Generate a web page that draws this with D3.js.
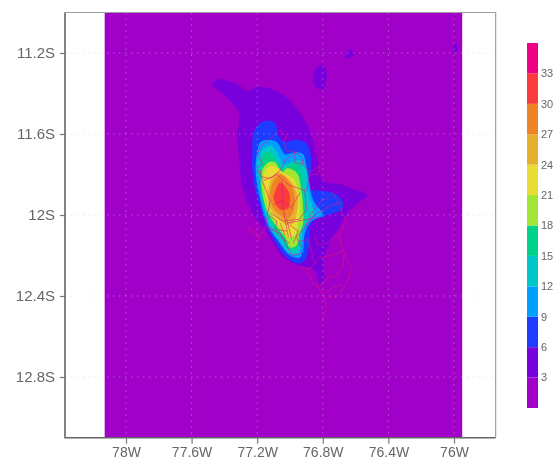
<!DOCTYPE html>
<html>
<head>
<meta charset="utf-8">
<script src="https://cdn.jsdelivr.net/npm/d3@7"></script>
<style>
html, body { margin: 0; background: #fff; overflow: hidden; }
svg { display: block; filter: blur(0.45px); }
text { font-family: "Liberation Sans", Arial, sans-serif; fill: #666; }
</style>
</head>
<body>
<div id="chart"></div>
<script>
// tick values, degrees west / degrees south
const lonTicks = [78, 77.6, 77.2, 76.8, 76.4, 76]
const latTicks = [11.2, 11.6, 12, 12.4, 12.8]

// colour bar
const barLevels = [3, 6, 9, 12, 15, 18, 21, 24, 27, 30, 33]
const barColors = ['#a000c8', '#7800dc', '#1e3cff', '#00a0ff', '#00c8c8', '#00d28c',
    '#a0e632', '#e6dc32', '#e6af2d', '#f08228', '#fa3c3c', '#f00082']

// data window of the map and of the frame
const mapLon = [78.13, 75.95]
const frameLon = [78.372, 75.746]
const frameLat = [11.0, 13.1]

// contours as [lon W, lat S], one list per level
const level3 = [[77.47,11.36],[77.44,11.33],[77.37,11.34],[77.29,11.37],[77.26,11.39],[77.21,11.37],[77.14,11.37],[77.04,11.41],[76.96,11.47],[76.88,11.58],[76.85,11.66],[76.83,11.73],[76.80,11.83],[76.68,11.85],[76.62,11.87],[76.53,11.90],[76.60,11.95],[76.65,11.99],[76.70,12.06],[76.76,12.14],[76.80,12.24],[76.79,12.32],[76.82,12.34],[76.85,12.27],[76.94,12.25],[77.04,12.21],[77.14,12.09],[77.23,11.99],[77.29,11.86],[77.31,11.73],[77.32,11.60],[77.31,11.50],[77.35,11.45],[77.41,11.40]]
const blob1 = [[76.85,11.29],[76.82,11.26],[76.78,11.28],[76.78,11.34],[76.80,11.38],[76.84,11.37],[76.86,11.33]]
const blob2 = [[76.63,11.18],[76.61,11.21],[76.66,11.23],[76.65,11.20]]
const blob3 = [[75.99,11.15],[75.98,11.19],[76.01,11.19]]
const level6 = [[77.10,11.54],[77.17,11.54],[77.22,11.59],[77.23,11.69],[77.23,11.78],[77.21,11.88],[77.15,12.04],[77.10,12.12],[77.02,12.21],[76.94,12.24],[76.90,12.21],[76.88,12.12],[76.87,12.04],[76.77,12.00],[76.68,11.97],[76.68,11.93],[76.74,11.89],[76.82,11.88],[76.88,11.87],[76.87,11.75],[76.88,11.68],[76.91,11.64],[76.97,11.63],[77.03,11.64],[77.07,11.61],[77.08,11.57]]
const level9 = [[77.13,11.63],[77.18,11.64],[77.20,11.69],[77.21,11.78],[77.18,11.93],[77.13,12.06],[77.08,12.12],[77.00,12.20],[76.94,12.21],[76.92,12.17],[76.91,12.09],[76.87,12.03],[76.80,12.00],[76.85,11.94],[76.87,11.90],[76.88,11.85],[76.90,11.76],[76.92,11.70],[76.96,11.69],[77.03,11.70],[77.05,11.68],[77.08,11.64]]
const level12 = [[77.14,11.66],[77.18,11.69],[77.20,11.76],[77.18,11.85],[77.17,11.93],[77.12,12.06],[77.07,12.12],[77.00,12.19],[76.95,12.19],[76.93,12.14],[76.92,12.08],[76.88,12.02],[76.85,11.99],[76.87,11.95],[76.89,11.88],[76.91,11.75],[76.96,11.73],[77.04,11.75],[77.08,11.69],[77.11,11.66]]
const level15 = [[77.15,11.69],[77.17,11.73],[77.18,11.79],[77.18,11.88],[77.15,11.97],[77.10,12.06],[77.05,12.11],[77.00,12.17],[76.96,12.17],[76.94,12.10],[76.91,12.03],[76.91,11.96],[76.92,11.89],[76.93,11.78],[76.97,11.74],[77.00,11.75],[77.05,11.77],[77.09,11.72],[77.12,11.69]]
const level18 = [[77.13,11.74],[77.17,11.78],[77.17,11.88],[77.14,11.98],[77.08,12.06],[77.03,12.11],[77.00,12.16],[76.96,12.15],[76.94,12.09],[76.92,12.04],[76.92,11.96],[76.93,11.88],[76.96,11.79],[77.02,11.77],[77.05,11.79],[77.09,11.74]]
const level21 = [[77.09,11.76],[77.13,11.76],[77.16,11.80],[77.15,11.90],[77.12,11.98],[77.07,12.05],[77.01,12.11],[76.97,12.10],[76.95,12.04],[76.94,11.96],[76.95,11.88],[76.98,11.82],[77.04,11.79]]
const level24 = [[77.07,11.79],[77.11,11.82],[77.135,11.89],[77.125,11.96],[77.07,12.02],[77.02,12.05],[76.98,12.04],[76.955,11.97],[76.955,11.90],[77.00,11.83]]
const level27 = [[77.06,11.80],[77.105,11.84],[77.12,11.90],[77.105,11.96],[77.06,12.00],[77.02,12.02],[76.985,11.99],[76.97,11.93],[76.98,11.875],[77.02,11.82]]
const level30 = [[77.06,11.84],[77.09,11.885],[77.10,11.915],[77.08,11.955],[77.05,11.975],[77.01,11.965],[77.00,11.915],[77.015,11.875]]

const contourLayers = [
    { points: level3, color: barColors[1] },
    { points: blob1, color: barColors[1] },
    { points: blob2, color: barColors[1] },
    { points: blob3, color: barColors[1] },
    { points: level6, color: barColors[2] },
    { points: level9, color: barColors[3] },
    { points: level12, color: barColors[4] },
    { points: level15, color: barColors[5] },
    { points: level18, color: barColors[6] },
    { points: level21, color: barColors[7] },
    { points: level24, color: barColors[8] },
    { points: level27, color: barColors[9] },
    { points: level30, color: barColors[10] }
]

// district borders, also [lon W, lat S]
const borders = [
    [[76.94,12.25],[76.91,12.28],[76.88,12.30],[76.86,12.34],[76.83,12.35],[76.81,12.38],[76.79,12.40],[76.78,12.44],[76.78,12.47],[76.80,12.51],[76.79,12.53]],
    [[76.77,12.40],[76.73,12.41],[76.69,12.385],[76.66,12.34],[76.64,12.31],[76.62,12.26],[76.65,12.23],[76.67,12.18],[76.69,12.14],[76.70,12.10],[76.66,12.03],[76.68,11.99],[76.70,11.95],[76.74,11.89],[76.78,11.92],[76.81,11.93],[76.85,11.97],[76.88,12.01],[76.91,12.06]],
    [[76.82,12.35],[76.77,12.31],[76.72,12.30],[76.68,12.26],[76.67,12.19]],
    [[76.79,12.39],[76.74,12.36],[76.68,12.34]],
    [[76.85,12.10],[76.83,12.15],[76.78,12.14],[76.74,12.11],[76.70,12.10]],
    [[76.94,12.13],[76.89,12.12],[76.87,12.18],[76.85,12.24],[76.88,12.27],[76.92,12.26]],
    [[76.85,12.24],[76.82,12.21],[76.75,12.20],[76.68,12.18]],
    [[77.09,11.60],[77.06,11.58],[77.02,11.61],[77.04,11.64],[77.02,11.68],[76.97,11.69],[76.93,11.71],[76.92,11.75],[76.97,11.74],[76.97,11.69]],
    [[76.92,11.75],[76.88,11.79],[76.82,11.76],[76.83,11.80],[76.88,11.80],[76.90,11.88]],
    [[77.09,11.60],[77.13,11.63],[77.18,11.66],[77.20,11.70],[77.17,11.74],[77.20,11.77],[77.18,11.81],[77.12,11.82],[77.06,11.78],[77.03,11.73],[76.97,11.69]],
    [[77.18,11.78],[77.17,11.83],[77.12,11.93],[77.14,12.01],[77.15,12.06],[77.06,12.09],[76.99,12.20],[76.93,12.19],[76.93,12.16],[76.96,12.11],[76.85,12.00],[76.75,11.95],[76.68,11.94]],
    [[77.16,11.83],[77.08,11.80],[77.01,11.85],[76.91,11.88],[76.90,11.97],[76.94,12.02],[77.04,12.03],[77.12,11.99]],
    [[77.05,11.83],[77.04,11.98],[77.01,12.11]],
    [[77.02,12.04],[76.82,12.01]],
    [[76.94,11.89],[76.99,11.96]],
    [[77.26,12.06],[77.21,12.08],[77.18,12.12],[77.21,12.10],[77.25,12.07],[77.26,12.06]],
    [[77.18,12.11],[77.15,12.06]],
    [[77.12,12.06],[77.04,12.12],[77.00,12.14]],
    [[77.02,12.02],[76.99,12.12]],
    [[77.06,12.04],[77.03,12.10]],
    [[77.10,11.95],[77.05,11.93],[76.98,11.97]],
    [[77.13,12.00],[77.08,12.03],[77.09,12.07],[77.02,12.08]],
    [[77.00,12.05],[76.95,12.08],[76.98,12.14]]
]

const width = 555
const height = 459

const svg = d3.select('#chart').append('svg')
    .attr('width', width).attr('height', height)

const xScale = d3.scaleLinear().domain([78, 76]).range([126, 454])
const yScale = d3.scaleLinear().domain([11.2, 12.8]).range([53, 377])

const left = xScale(frameLon[0])
const right = xScale(frameLon[1])
const top_ = yScale(frameLat[0])
const bottom = yScale(frameLat[1])

// purple background of the map
svg.append('rect')
    .attr('x', xScale(mapLon[0]))
    .attr('y', top_)
    .attr('width', xScale(mapLon[1]) - xScale(mapLon[0]))
    .attr('height', bottom - top_)
    .attr('fill', barColors[0])

// filled contours, lowest first
const contourLine = d3.line()
    .x(d => xScale(d[0]))
    .y(d => yScale(d[1]))
    .curve(d3.curveCatmullRomClosed.alpha(0.5))

svg.append('g').selectAll('path')
    .data(contourLayers)
    .join('path')
    .attr('d', d => contourLine(d.points))
    .attr('fill', d => d.color)

// district borders
const borderLine = d3.line()
    .x(d => xScale(d[0]))
    .y(d => yScale(d[1]))

svg.append('g').selectAll('path')
    .data(borders)
    .join('path')
    .attr('d', borderLine)
    .attr('fill', 'none')
    .attr('stroke', '#e6147d')
    .attr('stroke-opacity', 0.65)
    .attr('stroke-width', 0.9)

// dotted grid
const grid = svg.append('g')
    .attr('stroke', '#c8c8c8')
    .attr('stroke-opacity', 0.45)
    .attr('stroke-dasharray', '1.5,4.5')
grid.selectAll('.vline').data(lonTicks).join('line')
    .attr('class', 'vline')
    .attr('x1', d => xScale(d)).attr('x2', d => xScale(d))
    .attr('y1', top_).attr('y2', bottom)
grid.selectAll('.hline').data(latTicks).join('line')
    .attr('class', 'hline')
    .attr('x1', left).attr('x2', right)
    .attr('y1', d => yScale(d)).attr('y2', d => yScale(d))

// frame
svg.append('path')
    .attr('d', `M${left},${top_}H${right}V${bottom}`)
    .attr('fill', 'none')
    .attr('stroke', '#a0a0a0')
    .attr('stroke-width', 1.2)

// axes
const xAxis = d3.axisBottom(xScale)
    .tickValues(lonTicks)
    .tickFormat(d => d + 'W')
    .tickSize(6).tickPadding(3)
const yAxis = d3.axisLeft(yScale)
    .tickValues(latTicks)
    .tickFormat(d => d + 'S')
    .tickSize(5).tickPadding(5)

const xAxisG = svg.append('g')
    .attr('transform', `translate(0,${bottom})`)
    .call(xAxis)
const yAxisG = svg.append('g')
    .attr('transform', `translate(${left},0)`)
    .call(yAxis)

for (const g of [xAxisG, yAxisG]) {
    g.select('.domain').attr('d', null)
    g.selectAll('.tick line').attr('stroke', '#777').attr('stroke-width', 1.2)
}
xAxisG.selectAll('text').style('font-size', '14px')
yAxisG.selectAll('text').style('font-size', '15px')

svg.append('path')
    .attr('d', `M${left},${top_}V${bottom}H${right}`)
    .attr('fill', 'none')
    .attr('stroke', '#666')
    .attr('stroke-width', 1.6)

// colour bar
const barScale = d3.scaleLinear().domain([0, 36]).range([408, 43])
const barStep = 3
svg.append('g').selectAll('rect')
    .data(barColors)
    .join('rect')
    .attr('x', 527)
    .attr('width', 11)
    .attr('y', (d, i) => barScale((i + 1) * barStep))
    .attr('height', (d, i) => barScale(i * barStep) - barScale((i + 1) * barStep))
    .attr('fill', d => d)

svg.append('g').selectAll('text')
    .data(barLevels)
    .join('text')
    .attr('x', 541)
    .attr('y', d => barScale(d))
    .attr('dy', '0.35em')
    .style('font-size', '11px')
    .text(d => d)
</script>
</body>
</html>
